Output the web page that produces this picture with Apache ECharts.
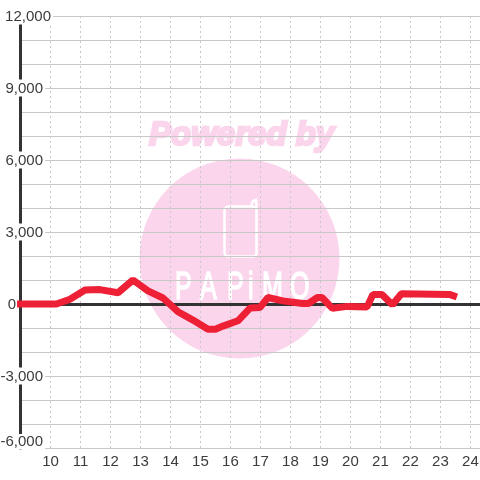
<!DOCTYPE html>
<html>
<head>
<meta charset="utf-8">
<style>html,body{margin:0;padding:0;background:#fff}#c{width:480px;height:480px}</style>
<script src="https://cdn.jsdelivr.net/npm/echarts@6/dist/echarts.min.js"></script>
</head>
<body>
<div id="c"></div>
<script>
const hours = [8.88,10.2,10.65,11.15,11.65,12.25,12.75,13.25,13.75,14.25,14.75,15.25,15.5,15.75,16.25,16.65,16.98,17.25,17.75,18.4,18.6,18.9,19.05,19.4,19.9,20.55,20.75,21.05,21.4,21.7,23.3,23.55];
const values = [0,0,200,580,600,470,1000,550,250,-320,-670,-1050,-1050,-920,-700,-170,-150,270,130,20,20,270,270,-180,-100,-130,400,400,-30,430,400,290];
const xTickLabels = [10,11,12,13,14,15,16,17,18,19,20,21,22,23,24];
const yTickLabels = [12000,9000,6000,3000,0,-3000,-6000];
const watermarkTitle = 'Powered by';
const watermarkName = 'PAPiMO';
const nameX = [175,200,227,248,262,290];

const pink = '#fbd5ec';
const ink = '#3c3c3c';
const fmt = v => v.toLocaleString('en-US');
const chart = echarts.init(document.getElementById('c'), null, {renderer:'canvas'});
chart.setOption({
  animation:false,
  backgroundColor:'#fff',
  grid:{left:20.5,top:16,width:459.5,height:432,containLabel:false,outerBoundsMode:'none'},
  graphic:[
    {type:'circle',z:-10,shape:{cx:239.5,cy:258.5,r:100},style:{fill:pink}},
    {type:'text',z:-10,x:149,y:119,style:{text:watermarkTitle,fill:pink,stroke:pink,lineWidth:2.5,font:'italic bold 33px "Liberation Sans"'}},
    {type:'rect',z:-9,shape:{x:224.5,y:206.5,width:32,height:50,r:4},style:{fill:'none',stroke:'#fff',lineWidth:2.5}},
    {type:'polyline',z:-9,shape:{points:[[251,206],[253,201],[256,200],[256.5,208]]},style:{fill:'none',stroke:'#fff',lineWidth:2.5}},
    ...watermarkName.split('').map((ch,i)=>({type:'text',z:-9,x:nameX[i],y:270,scaleX:0.66,style:{text:ch,fill:'#fff',stroke:'#fff',lineWidth:1.5,font:'38px "Liberation Sans"'}}))
  ],
  xAxis:[{
    type:'value',min:9,max:24.32,interval:1,position:'bottom',
    axisLine:{show:false,onZero:false},axisTick:{show:false},
    splitLine:{show:true,lineStyle:{color:'#c8c8c8',width:1,type:[2,3]}},
    axisLabel:{show:true,margin:6,color:ink,fontSize:15,fontFamily:'Liberation Sans',showMinLabel:false,showMaxLabel:true,
      formatter:v=>xTickLabels.includes(v)?String(v):''}
  },{
    type:'value',min:9,max:24.32,interval:1,position:'bottom',
    axisLine:{show:true,onZero:true,lineStyle:{color:'#333',width:3}},
    axisTick:{show:false},axisLabel:{show:false},splitLine:{show:false}
  }],
  yAxis:{
    type:'value',min:-6000,max:12000,interval:1000,position:'left',
    axisLine:{show:true,onZero:false,lineStyle:{color:'#333',width:3}},
    axisTick:{show:false},
    splitLine:{show:true,lineStyle:{color:'#c8c8c8',width:1}},
    axisLabel:{show:true,inside:false,margin:-32.5,align:'right',verticalAlign:'middle',color:ink,fontSize:15,fontFamily:'Liberation Sans',
      formatter:v=>{
        if(!yTickLabels.includes(v)) return '';
        if(v===-6000) return '{b|'+fmt(v)+'}{g| }\n{u| }';
        const gap = v===12000?'':(v===0?'{z| }':'{g| }');
        return '{t|'+fmt(v)+'}'+gap;
      },
      rich:{
        t:{color:ink,fontSize:15,fontFamily:'Liberation Sans',backgroundColor:'#fff',padding:[2,2,0,1],height:15,lineHeight:15},
        b:{color:ink,fontSize:15,fontFamily:'Liberation Sans',backgroundColor:'#fff',padding:[0,2,0,1],height:15,lineHeight:15},
        u:{fontSize:1,height:13,lineHeight:13},
        g:{width:8,fontSize:15,height:15},
        z:{width:35,fontSize:15,height:15}
      }
    }
  },
  series:[{
    type:'line',xAxisIndex:0,yAxisIndex:0,clip:false,symbol:'none',z:5,
    data:hours.map((h,i)=>[h,values[i]]),
    lineStyle:{color:'#ee2036',width:7,cap:'butt',join:'bevel'}
  }]
});
</script>
</body>
</html>
